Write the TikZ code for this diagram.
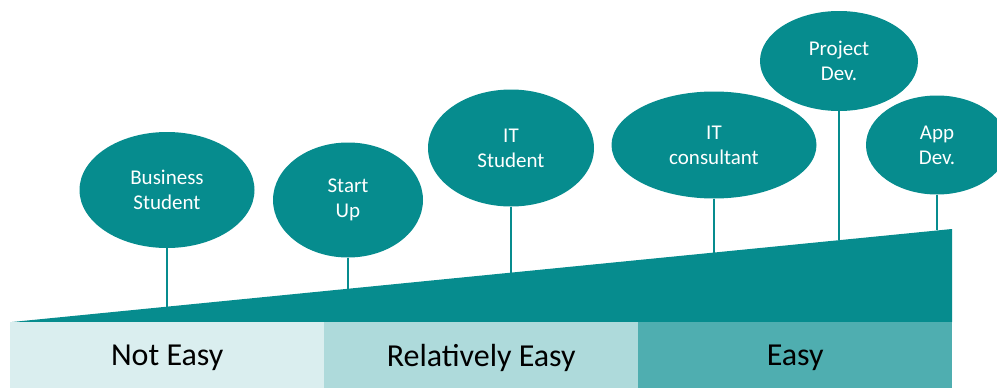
\documentclass[tikz,border=0pt]{standalone}
\usepackage{fontspec}
\setmainfont{Carlito}
\usetikzlibrary{shapes.geometric,calc}
\definecolor{teal1}{HTML}{068C8E}
\definecolor{barA}{HTML}{DAEEEF}
\definecolor{barB}{HTML}{AEDADB}
\definecolor{barC}{HTML}{4FAEB0}
\tikzset{
  bubble/.style={ellipse, fill=teal1, draw=none, inner sep=0pt, text=white, align=center,
    font=\fontsize{21}{25}\selectfont},
  bar/.style={draw=none, inner sep=0pt, anchor=north west, minimum height=66pt},
  barlabel/.style={font=\fontsize{32}{38}\selectfont, text=black, yshift=-3pt},
  stem/.style={draw=teal1, line width=1.3pt}
}
\begin{document}
\begin{tikzpicture}[x=1pt,y=-1pt]
\useasboundingbox (0,0) rectangle (997,388);
\clip (0,0) rectangle (997,388);
\coordinate (tl) at (12,322);
\coordinate (tr) at (952,229);
\coordinate (br) at (952,322);
% bubbles
\node[bubble, minimum width=175pt, minimum height=116pt] (bs) at (167,190) {Business\\Student};
\node[bubble, minimum width=150pt, minimum height=115pt] (su) at (348,200) {Start\\Up};
\node[bubble, minimum width=166pt, minimum height=117pt] (its) at (511,148) {IT\\Student};
\node[bubble, minimum width=205pt, minimum height=107pt] (itc) at (714,145) {IT\\consultant};
\node[bubble, minimum width=158pt, minimum height=100pt] (pd) at (839,61) {Project\\Dev.};
\node[bubble, minimum width=142pt, minimum height=99pt] (ad) at (937,145) {App\\Dev.};
% slope points
\path (tl) -- (tr)
  coordinate[pos=0.1649] (c1)
  coordinate[pos=0.3574] (c2)
  coordinate[pos=0.5309] (c3)
  coordinate[pos=0.7468] (c4)
  coordinate[pos=0.8798] (c5)
  coordinate[pos=0.9840] (c6);
\draw[stem] (bs.south) -- (bs.south |- c1);
\draw[stem] (su.south) -- (su.south |- c2);
\draw[stem] (its.south) -- (its.south |- c3);
\draw[stem] (itc.south) -- (itc.south |- c4);
\draw[stem] (pd.south) -- (pd.south |- c5);
\draw[stem] (ad.south) -- (ad.south |- c6);
% wedge
\fill[teal1] (tl) -- (tr) -- (br) -- cycle;
% bars
\node[bar, fill=barA, minimum width=314pt] (b1) at (10,322) {};
\node[bar, fill=barB, minimum width=314pt] (b2) at (324,322) {};
\node[bar, fill=barC, minimum width=314pt] (b3) at (638,322) {};
\node[barlabel] (l1) at (b1.center) {Not Easy};
\node[barlabel] (l2) at (b2.center) {Relatively Easy};
\node[barlabel] (l3) at (b3.center) {Easy};
\end{tikzpicture}
\end{document}
